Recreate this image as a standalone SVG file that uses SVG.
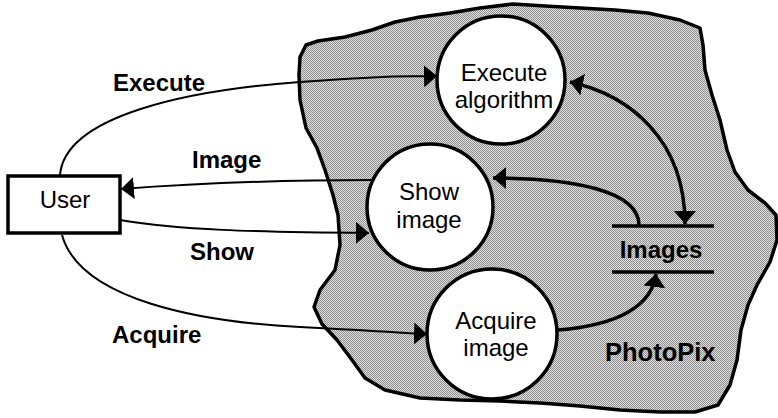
<svg xmlns="http://www.w3.org/2000/svg" width="778" height="418" viewBox="0 0 778 418">
  <defs>
    <pattern id="dots" width="2" height="2" patternUnits="userSpaceOnUse">
      <rect width="2" height="2" fill="#dedede"/>
      <rect width="1" height="1" fill="#909090"/>
      <rect x="1" y="1" width="1" height="1" fill="#909090"/>
    </pattern>
    <marker id="arrow" markerUnits="userSpaceOnUse" markerWidth="14" markerHeight="22" refX="13" refY="11" orient="auto-start-reverse" viewBox="0 0 14 22">
      <path d="M0,0 L13,11 L0,22 Z" fill="#000"/>
    </marker>
  </defs>
  <style>
    .blob { fill: url(#dots); stroke: #000; stroke-width: 3.5; stroke-linejoin: round; }
    .proc circle { fill: #fff; stroke: #000; stroke-width: 3.5; }
    .lbl { font-family: "Liberation Sans", Arial, sans-serif; font-size: 24px; fill: #000; }
    .bold { font-weight: bold; }
    .mid { text-anchor: middle; }
    .thin { fill: none; stroke: #000; stroke-width: 2; }
    .thick { fill: none; stroke: #000; stroke-width: 3.5; }
    .store line { stroke: #000; stroke-width: 3.5; }
  </style>

  <g id="photopix">
    <path class="blob" d="M300,57 L306,45 L318,41 L345,37 L372,30 L395,22 L420,17 L450,13 L480,8 L513,4 L545,6 L580,8 L615,10 L648,13 L680,20 L700,28 L703,45 L705,70 L712,95 L720,120 L727,150 L735,172 L748,190 L765,203 L776,215 L777,240 L770,262 L757,285 L748,305 L741,330 L737,360 L730,385 L718,405 L695,412 L660,412 L620,410 L580,406 L540,403 L500,401 L460,400 L420,398 L385,390 L365,378 L352,360 L337,340 L322,324 L314,307 L320,290 L335,270 L340,245 L338,215 L333,195 L325,170 L317,148 L306,128 L300,100 L299,75 Z"/>
    <text class="lbl bold" x="605" y="361" style="font-size:25.5px">PhotoPix</text>
  </g>

  <g id="user">
    <rect x="8" y="176" width="112" height="57" fill="#fff" stroke="#000" stroke-width="3.5"/>
    <text class="lbl mid" x="65" y="208">User</text>
  </g>

  <g id="execute-algorithm" class="proc">
    <circle cx="501" cy="80" r="64"/>
    <text class="lbl mid" x="504" y="81">Execute</text>
    <text class="lbl mid" x="504" y="108">algorithm</text>
  </g>

  <g id="show-image" class="proc">
    <circle cx="430" cy="207" r="63"/>
    <text class="lbl mid" x="429" y="200">Show</text>
    <text class="lbl mid" x="429" y="228">image</text>
  </g>

  <g id="acquire-image" class="proc">
    <circle cx="492" cy="334" r="65"/>
    <text class="lbl mid" x="496" y="329">Acquire</text>
    <text class="lbl mid" x="496" y="356">image</text>
  </g>

  <g id="images" class="store">
    <line x1="612" y1="226" x2="714" y2="226"/>
    <line x1="612" y1="272" x2="714" y2="272"/>
    <text class="lbl bold mid" x="661" y="258">Images</text>
  </g>

  <g id="connectors">
    <path class="thin" d="M60,175 C65,115 190,90 300,82 S400,77 437,76" marker-end="url(#arrow)"/>
    <path class="thin" d="M373,180 C300,180 200,183 121,189" marker-end="url(#arrow)"/>
    <path class="thin" d="M120,220 C180,230 250,232 369,233" marker-end="url(#arrow)"/>
    <path class="thin" d="M62,235 C80,300 200,322 300,327 S400,333 427,334" marker-end="url(#arrow)"/>
    <path class="thick" d="M570,82 C630,95 685,140 685,224" marker-start="url(#arrow)" marker-end="url(#arrow)"/>
    <path class="thick" d="M639,226 C640,190 570,178 493,178" marker-end="url(#arrow)"/>
    <path class="thick" d="M558,330 C620,325 652,305 656,274" marker-end="url(#arrow)"/>
  </g>

  <g id="labels">
    <text class="lbl bold" x="113" y="91">Execute</text>
    <text class="lbl bold" x="192" y="168">Image</text>
    <text class="lbl bold" x="190" y="260">Show</text>
    <text class="lbl bold" x="112" y="343">Acquire</text>
  </g>
</svg>
